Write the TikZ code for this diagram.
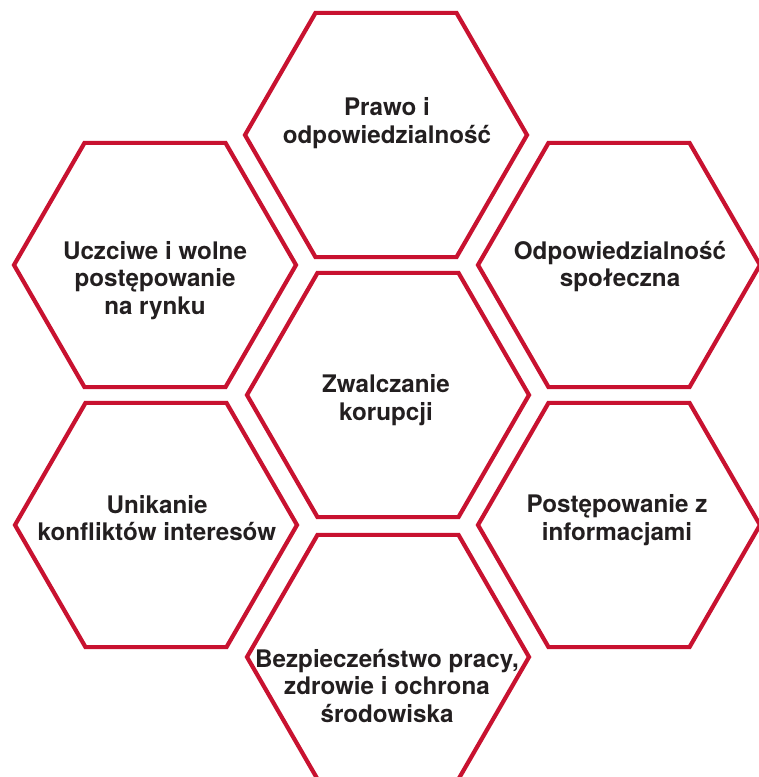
\documentclass[tikz,border=0pt]{standalone}
\usepackage{fontspec}
\setmainfont{TeX Gyre Heros}
\usetikzlibrary{shapes.geometric}
\definecolor{hexred}{RGB}{200,18,48}
\definecolor{txt}{RGB}{35,31,32}
\tikzset{
  hexa/.style={regular polygon, regular polygon sides=6, minimum size=282bp,
    inner sep=0pt, outer sep=0pt, draw=hexred, line width=4.2bp},
  lbl/.style={align=center, text=txt, inner sep=0pt,
    font=\bfseries\fontsize{24.2bp}{27.8bp}\selectfont}
}
\begin{document}
\begin{tikzpicture}[x=1bp,y=-1bp]
\useasboundingbox (0,0) rectangle (759,777);
\clip (0,0) rectangle (759,777);
\node[hexa] (h1) at (386,135) {};
\node[hexa] (h2) at (155,265) {};
\node[hexa] (h3) at (619,265) {};
\node[hexa] (h4) at (388,395) {};
\node[hexa] (h5) at (156,525) {};
\node[hexa] (h6) at (619,525) {};
\node[hexa] (h7) at (388,657) {};
\node[lbl] (t1) at (387,123) {Prawo i\\odpowiedzialność};
\node[lbl] (t2) at (155,280.5) {Uczciwe i wolne\\postępowanie\\na rynku};
\node[lbl] (t3) at (620,266.5) {Odpowiedzialność\\społeczna};
\node[lbl] (t4) at (386,400.5) {Zwalczanie\\korupcji};
\node[lbl] (t5) at (157,518) {Unikanie\\konfliktów interesów};
\node[lbl] (t6) at (617,520.5) {Postępowanie z\\informacjami};
\node[lbl] (t7) at (387,686) {Bezpieczeństwo pracy,\\zdrowie i ochrona\\środowiska};
\end{tikzpicture}
\end{document}
